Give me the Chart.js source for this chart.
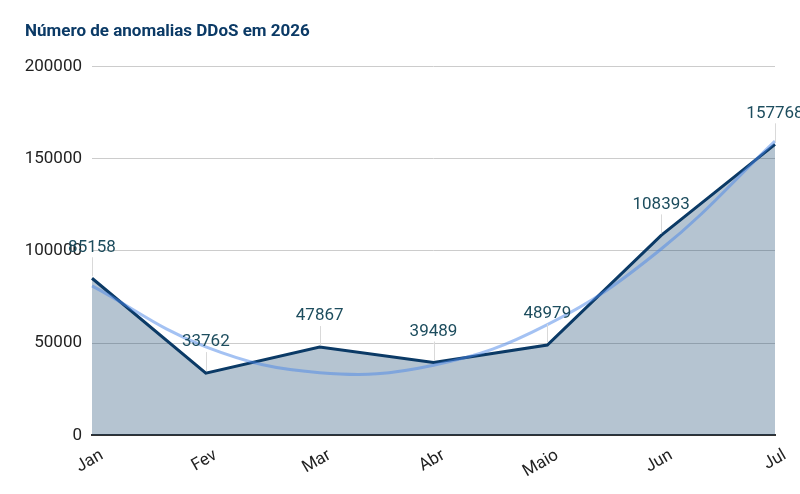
<!DOCTYPE html>
<html>
<head>
<meta charset="utf-8">
<script src="https://cdn.jsdelivr.net/npm/chart.js@4.4.1/dist/chart.umd.min.js"></script>
<style>
    html, body { margin: 0; padding: 0; background: #fff; }
    #wrap { width: 800px; height: 494px; }
</style>
</head>
<body>
<div id="wrap"><canvas id="ddosChart"></canvas></div>
<script>
// Chart values
const months = ['Jan', 'Fev', 'Mar', 'Abr', 'Maio', 'Jun', 'Jul'];
const anomalies = [85158, 33762, 47867, 39489, 48979, 108393, 157768];
// polynomial trend line
const trend = [81000, 48000, 34000, 38000, 60000, 101000, 159500];
const yTicks = [0, 50000, 100000, 150000, 200000];

const navy = '#0b3a66';

// labels above each point with a thin leader line down to the point
const pointLabels = {
    id: 'pointLabels',
    afterDatasetsDraw(chart) {
        const ctx = chart.ctx;
        const meta = chart.getDatasetMeta(1);
        ctx.save();
        ctx.font = '17px Roboto';
        ctx.textAlign = 'center';
        ctx.textBaseline = 'middle';
        meta.data.forEach((pt, i) => {
            const ly = pt.y - 31;
            ctx.strokeStyle = '#d9d9d9';
            ctx.lineWidth = 1;
            ctx.beginPath();
            ctx.moveTo(Math.round(pt.x) + 0.5, ly + 10);
            ctx.lineTo(Math.round(pt.x) + 0.5, pt.y - 2);
            ctx.stroke();
            ctx.fillStyle = '#1d4d5e';
            ctx.fillText(String(anomalies[i]), pt.x, ly);
        });
        ctx.restore();
    }
};

new Chart(document.getElementById('ddosChart'), {
    type: 'line',
    data: {
        labels: months,
        datasets: [
            {
                label: 'Tendência',
                data: trend,
                borderColor: 'rgba(74, 134, 232, 0.5)',
                borderWidth: 3,
                tension: 0.4,
                pointRadius: 0,
                fill: false,
                order: 0
            },
            {
                label: 'Anomalias',
                data: anomalies,
                borderColor: navy,
                borderWidth: 3,
                backgroundColor: 'rgba(11, 58, 102, 0.3)',
                tension: 0,
                pointRadius: 0,
                fill: 'origin',
                order: 1
            }
        ]
    },
    options: {
        responsive: true,
        maintainAspectRatio: false,
        animation: false,
        layout: { padding: { left: 25, right: 25, top: 22, bottom: 10 } },
        plugins: {
            legend: { display: false },
            tooltip: { enabled: false },
            title: {
                display: true,
                text: 'Número de anomalias DDoS em 2026',
                align: 'start',
                color: navy,
                font: { family: 'Roboto', size: 17, weight: 'bold' },
                padding: { top: 0, bottom: 24 }
            }
        },
        scales: {
            x: {
                offset: false,
                grid: { display: false },
                border: { color: '#333', width: 2 },
                afterFit: (scale) => {
                    scale.paddingLeft = 0;
                    scale.paddingRight = 0;
                },
                ticks: {
                    color: '#222',
                    font: { family: 'Roboto', size: 17 },
                    minRotation: 30,
                    maxRotation: 30,
                    labelOffset: 10,
                    padding: 2
                }
            },
            y: {
                min: 0,
                max: 200000,
                afterBuildTicks: (scale) => {
                    scale.ticks = yTicks.map(v => ({ value: v }));
                },
                afterFit: (scale) => {
                    scale.width = 67;
                },
                grid: { color: '#cccccc', drawTicks: false },
                border: { display: false },
                ticks: {
                    color: '#222',
                    font: { family: 'Roboto', size: 17 },
                    padding: 10,
                    callback: (v) => String(v)
                }
            }
        }
    },
    plugins: [pointLabels]
});
</script>
</body>
</html>
